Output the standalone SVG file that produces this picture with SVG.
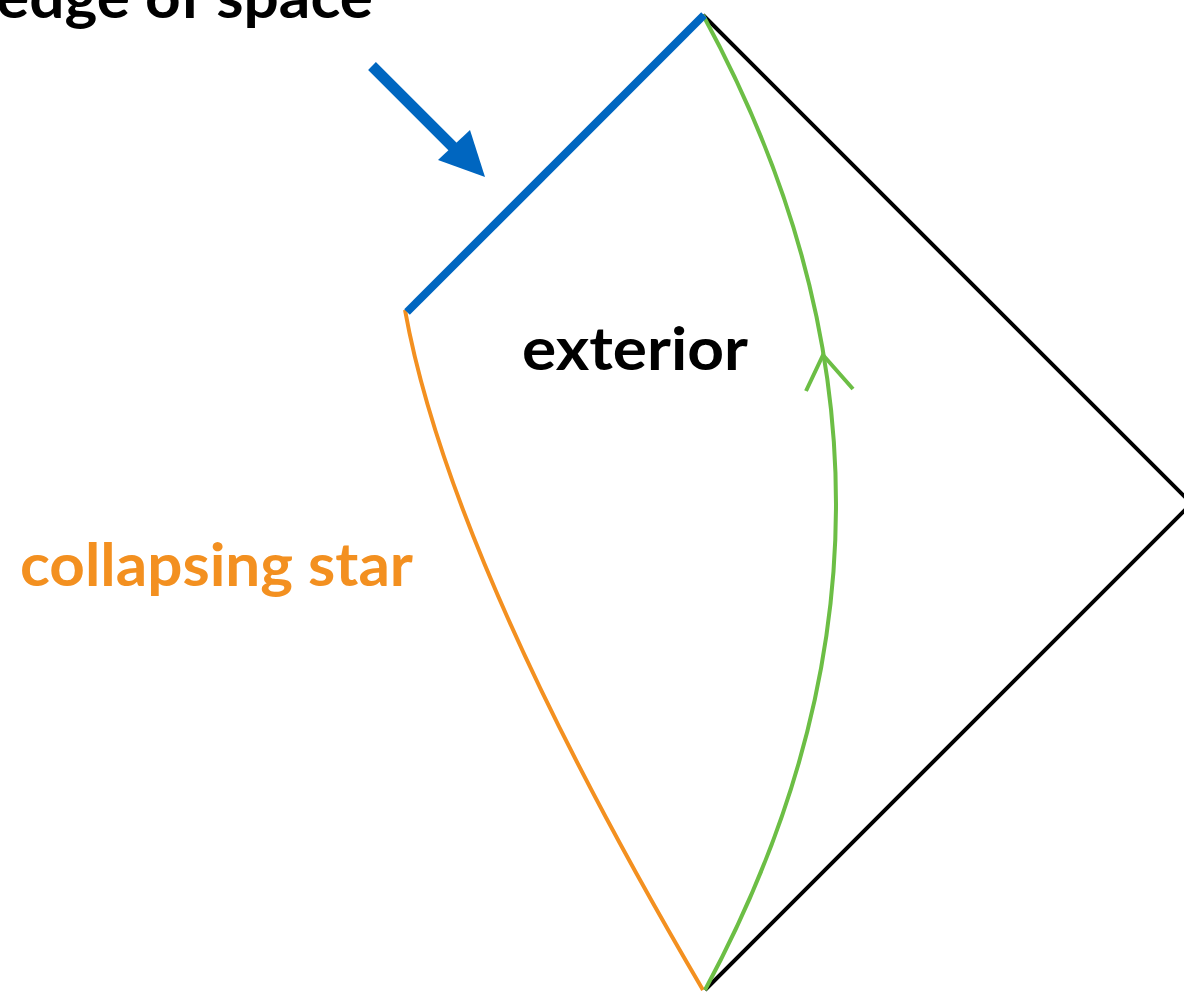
<svg xmlns="http://www.w3.org/2000/svg" width="1184" height="992" viewBox="0 0 1184 992">
<style>
.lbl{font-family:Lato,"Open Sans","Liberation Sans",sans-serif;font-weight:bold;font-size:60px}
.ln{fill:none;stroke-linecap:butt}
</style>
<rect width="1184" height="992" fill="#fff"/>
<g id="connectors">
<path class="ln" d="M703,15 L1191.5,503.5 L705,990" stroke="#000" stroke-width="4"/>
<path class="ln" d="M405,310 Q450,560 703,990" stroke="#F39020" stroke-width="4"/>
<path class="ln" d="M703,15 Q968,502 705,990" stroke="#6CBE45" stroke-width="4"/>
<path class="ln" d="M806,391 L823,355 L853,389" stroke="#6CBE45" stroke-width="4"/>
<path class="ln" d="M407,312 L704,15" stroke="#0066C0" stroke-width="8"/>
<g id="arrow">
<line x1="372" y1="66" x2="455" y2="149" stroke="#0066C0" stroke-width="11"/>
<polygon points="485,177 470,130 438,160" fill="#0066C0"/>
</g>
</g>
<g id="edge-of-space"><text class="lbl" x="-4" y="18" fill="#000" textLength="377" lengthAdjust="spacingAndGlyphs">edge of space</text></g>
<g id="exterior"><text class="lbl" x="522" y="370" fill="#000" textLength="226" lengthAdjust="spacingAndGlyphs">exterior</text></g>
<g id="collapsing-star"><text class="lbl" x="20" y="586" fill="#F39020" textLength="393" lengthAdjust="spacingAndGlyphs">collapsing star</text></g>
</svg>
